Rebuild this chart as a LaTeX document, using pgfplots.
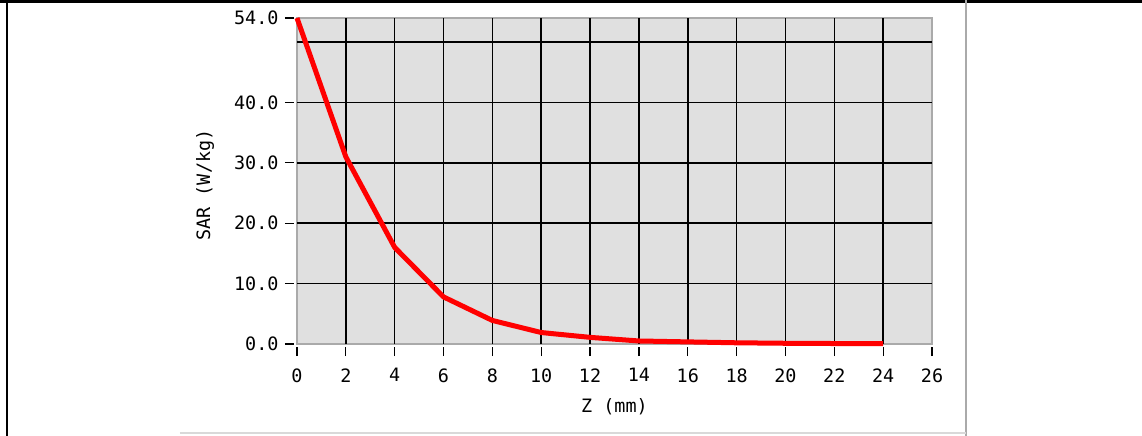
\documentclass[border=0pt]{standalone}
\usepackage{pgfplots}
\pgfplotsset{compat=1.18}
\usepackage{fontspec}
\setmonofont{DejaVu Sans Mono}
\definecolor{bggray}{RGB}{224,224,224}
\definecolor{edgegray}{RGB}{170,170,170}
\begin{document}
\begin{tikzpicture}
\begin{axis}[
  at={(0bp,0bp)}, anchor=south west,
  scale only axis, width=635bp, height=326bp,
  xmin=0, xmax=26, ymin=0, ymax=54,
  axis background/.style={fill=bggray},
  axis line style={edgegray, line width=1.2bp},
  xtick={0,2,...,26},
  xticklabels={0,2,4,6,8,10,12,14,16,18,20,22,24,26},
  ytick={0,10,20,30,40,54},
  yticklabels={0.0,10.0,20.0,30.0,40.0,54.0},
  tick align=outside,
  major tick length=9bp,
  xtick pos=bottom, ytick pos=left,
  x tick style={black, line width=1.2bp, yshift=-3bp},
  y tick style={black, line width=1.2bp, xshift=-3bp},
  extra x ticks={2,4,...,24},
  extra x tick labels={},
  extra x tick style={grid=major, tick style={draw=none}},
  extra y ticks={10,20,30,40,50},
  extra y tick labels={},
  extra y tick style={grid=major, tick style={draw=none}},
  grid style={black, line width=1.6bp},
  ticklabel style={font=\ttfamily\fontsize{18.5}{18.5}\selectfont},
  xticklabel style={yshift=-12bp},
  yticklabel style={xshift=-6bp},
  xlabel={Z (mm)},
  ylabel={SAR (W/kg)},
  label style={font=\ttfamily\fontsize{18.5}{18.5}\selectfont},
  xlabel style={at={(axis description cs:0.5,0)}, anchor=center, yshift=-63bp},
  ylabel style={at={(axis description cs:0,0.5)}, anchor=center, yshift=92bp, xshift=-4bp},
  clip=false,
]
\addplot[red, line width=5bp, line join=round] coordinates {
  (0,54) (2,31) (4,16) (6,7.8) (8,3.9) (10,1.9) (12,1.1) (14,0.5)
  (16,0.35) (18,0.2) (20,0.12) (22,0.08) (24,0.05)
};
\end{axis}
\draw[black, line width=3bp] (-297bp,342.5bp) -- (845bp,342.5bp);
\draw[black, line width=2.5bp] (-290bp,344bp) -- (-290bp,-92bp);
\draw[edgegray, line width=1.5bp] (669bp,344bp) -- (669bp,-92bp);
\draw[gray!30, line width=1.5bp] (-117bp,-89bp) -- (669bp,-89bp);
\pgfresetboundingbox
\path[use as bounding box] (-297bp,-92bp) rectangle (845bp,344bp);
\end{tikzpicture}
\end{document}
